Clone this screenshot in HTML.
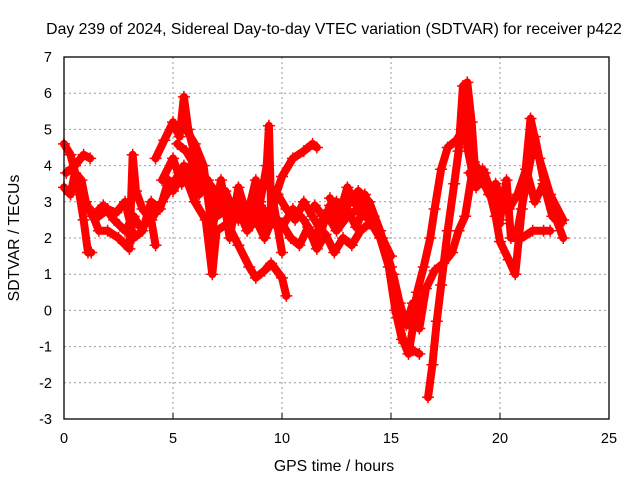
<!DOCTYPE html>
<html><head><meta charset="utf-8"><style>
body{margin:0;background:#fff;}
svg{display:block;font-family:"Liberation Sans",sans-serif;}
</style></head><body>
<svg id="chart" width="640" height="480">
<text x="334" y="34" text-anchor="middle" font-size="15.8">Day 239 of 2024, Sidereal Day-to-day VTEC variation (SDTVAR) for receiver p422</text>
<text x="334" y="471" text-anchor="middle" font-size="15.8">GPS time / hours</text>
<text transform="translate(19,238) rotate(-90)" text-anchor="middle" font-size="15.8">SDTVAR / TECUs</text>
<g id="grid"></g><g id="data"></g>
<rect x="64" y="57" width="545" height="362" fill="none" stroke="#000" stroke-width="1.3"/>
</svg>
<script>
const xTicks=[0,5,10,15,20,25];
const yTicks=[-3,-2,-1,0,1,2,3,4,5,6,7];
const s1t=[0,0.3,0.6,0.9,1.1,1.25];
const s1v=[4.6,4.3,3.6,2.5,1.6,1.6];
const s2t=[0,0.3,0.5,0.8,1.0,1.3,1.8,2.3,2.8,3.2,3.5,4.0,4.5,5.0,5.5,6.0];
const s2v=[3.4,3.2,3.8,3.6,3.0,2.6,2.9,2.5,2.2,2.6,2.3,2.5,3.0,3.5,4.0,3.6];
const s3t=[0.1,0.5,0.9,1.2];
const s3v=[3.8,4.0,4.3,4.2];
const s4t=[1.2,1.6,2.0,2.5,3.0,3.15,3.3,3.6,4.0,4.2];
const s4v=[2.8,2.2,2.2,2.0,1.7,4.3,3.3,2.8,2.5,1.8];
const s5t=[4.2,4.6,5.0,5.3,5.5,5.7,6.0,6.3,6.6,7.0,7.5,8.0];
const s5v=[4.2,4.7,5.2,4.8,5.9,5.0,4.3,3.5,3.2,2.6,2.8,2.5];
const s6t=[5.0,5.5,6.0,6.5,6.8,7.0,7.5,8.0,8.5,8.8,9.2,9.5,10.0,10.2];
const s6v=[3.3,3.8,3.0,2.5,1.0,2.2,2.4,1.8,1.2,0.9,1.1,1.3,0.9,0.4];
const s7t=[8.5,9.0,9.3,9.4,9.5,10.0,10.5,11.0,11.4,11.6];
const s7v=[2.8,3.0,4.0,5.1,2.8,3.7,4.2,4.4,4.6,4.5];
const s8t=[8.0,9.0,10.0,10.5,11.0,11.5,12.0,12.5,13.0,13.5,14.0,14.5,14.9,15.2,15.5,15.8,16.0,16.3];
const s8v=[2.8,2.5,2.3,2.8,2.5,2.0,2.7,2.2,2.6,2.8,2.5,2.0,1.2,0.0,-0.8,-1.0,-1.1,-1.2];
const s9t=[11.5,12.0,12.5,13.0,13.5,14.0,14.5,15.0,15.3,15.6,15.8,16.0,16.2,16.5,16.8,17.0,17.3,17.6,18.0,18.3,18.5,18.7,18.9,19.3,19.8,20.0,20.4,20.7,21.0,21.4,21.8,22.3,22.9];
const s9v=[2.9,2.5,3.0,2.9,3.3,3.0,2.2,1.2,-0.2,-0.9,-1.2,-0.5,0.5,1.2,2.0,2.8,3.9,4.5,4.7,5.0,6.3,5.2,3.5,3.8,2.6,1.9,1.4,1.0,2.8,5.3,4.2,3.2,2.5];
const s10t=[16.7,16.9,17.1,17.3,17.6,17.9,18.1,18.3,18.5,18.8,19.2,19.6,20.0];
const s10v=[-2.4,-1.5,-0.3,0.7,2.2,3.5,4.4,6.2,4.5,3.6,3.9,3.3,2.4];
const s11t=[15.1,15.4,15.7,16.0,16.3,16.6,17.0,17.4,17.8,18.1,18.4,18.8,19.2];
const s11v=[1.0,0.2,-0.4,0.2,-0.5,0.6,1.1,1.3,1.6,2.2,2.6,4.1,3.7];
const s12t=[20.0,20.3,20.5,21.0,21.5,22.0,22.3];
const s12v=[2.5,3.6,2.0,2.0,2.2,2.2,2.2];
const s13t=[20.8,21.2,21.6,22.0,22.4,22.9];
const s13v=[2.2,3.5,4.8,3.6,2.8,2.0];
const s14t=[4.5,5.0,5.4,5.8,6.2,6.6,7.0,7.4,7.8,8.2,8.6,9.0,9.4,9.8,10.2,10.6,11.0,11.4,11.8,12.2,12.6,13.0,13.4,13.8,14.2];
const s14v=[3.6,4.2,3.5,4.0,3.2,3.6,2.9,3.3,2.7,3.0,2.4,2.9,2.6,3.2,2.8,2.5,3.0,2.6,2.2,2.9,2.4,2.8,2.3,2.9,2.6];
const s15t=[5.2,5.6,6.0,6.4,6.8,7.2,7.6,8.0,8.4,8.8,9.2,9.6,10.0,10.4,10.8,11.2,11.6,12.0,12.4,12.8,13.2,13.6,14.0];
const s15v=[4.6,4.4,4.0,3.7,3.4,3.0,2.4,2.8,2.2,2.5,2.0,2.6,2.4,2.0,1.8,2.3,1.7,2.1,1.6,2.0,1.8,2.2,2.4];
const s16t=[5.6,6.0,6.4,6.8,7.2,7.6,8.0,8.4,8.8,9.2,9.6,10.0];
const s16v=[5.0,4.6,4.0,2.2,3.6,2.0,3.4,2.6,3.6,2.0,3.0,1.6];
const s17t=[1.6,2.0,2.4,2.8,3.2,3.6,4.0,4.4,4.8];
const s17v=[2.6,2.8,2.7,3.0,2.0,2.2,3.0,2.8,3.6];
const s18t=[18.6,18.9,19.2,19.5,19.8,20.1,20.4,20.8,21.2,21.6,22.0,22.4,22.8];
const s18v=[3.8,3.4,3.6,3.2,3.5,3.0,2.8,3.2,3.9,3.0,3.5,2.6,2.4];
const s19t=[12.2,12.6,13.0,13.4,13.8,14.2,14.6,15.0];
const s19v=[3.1,2.6,3.4,2.9,3.2,2.6,2.0,1.5];
const seriesT=[s1t,s2t,s3t,s4t,s5t,s6t,s7t,s8t,s9t,s10t,s11t,s12t,s13t,s14t,s15t,s16t,s17t,s18t,s19t];
const seriesV=[s1v,s2v,s3v,s4v,s5v,s6v,s7v,s8v,s9v,s10v,s11v,s12v,s13v,s14v,s15v,s16v,s17v,s18v,s19v];
const X=t=>64+t*21.8;
const Y=v=>419-(v+3)*36.2;
const NS="http://www.w3.org/2000/svg";
const grid=document.getElementById('grid'),data=document.getElementById('data'),svg=document.getElementById('chart');
function mk(tag,at,parent){const e=document.createElementNS(NS,tag);for(const k in at)e.setAttribute(k,at[k]);parent.appendChild(e);return e;}
xTicks.forEach(t=>{
  if(t>0&&t<25){const l=mk('line',{x1:X(t),x2:X(t),y1:57,y2:419,stroke:'#999','stroke-dasharray':'2,3'},grid);
  
  }
  const tk=mk('line',{x1:X(t),x2:X(t),y1:419,y2:413,stroke:'#000'},grid);
  
  
  const tx=mk('text',{x:X(t),y:443,'text-anchor':'middle','font-size':14.5},svg);tx.textContent=t;
  
  
});
yTicks.forEach(v=>{
  if(v>-3&&v<7){const l=mk('line',{x1:64,x2:609,y1:Y(v),y2:Y(v),stroke:'#999','stroke-dasharray':'2,3'},grid);
  
  }
  const tx=mk('text',{x:52,y:Y(v)+5,'text-anchor':'end','font-size':14.5},svg);tx.textContent=v;
  
  
});
seriesT.forEach((ts,i)=>{
  const vs=seriesV[i];
  const pts=ts.map((t,j)=>X(t)+','+Y(vs[j])).join(' ');
  const pl=mk('polyline',{points:pts,fill:'none',stroke:'#f00','stroke-width':8,'stroke-linejoin':'round','stroke-linecap':'round'},data);
  
  
  ts.forEach((t,j)=>{
    const p=mk('path',{d:`M${X(t)-6},${Y(vs[j])}h12M${X(t)},${Y(vs[j])-6}v12`,stroke:'#f00','stroke-width':1.5},data);
    
    
  });
});
</script>
</body></html>
